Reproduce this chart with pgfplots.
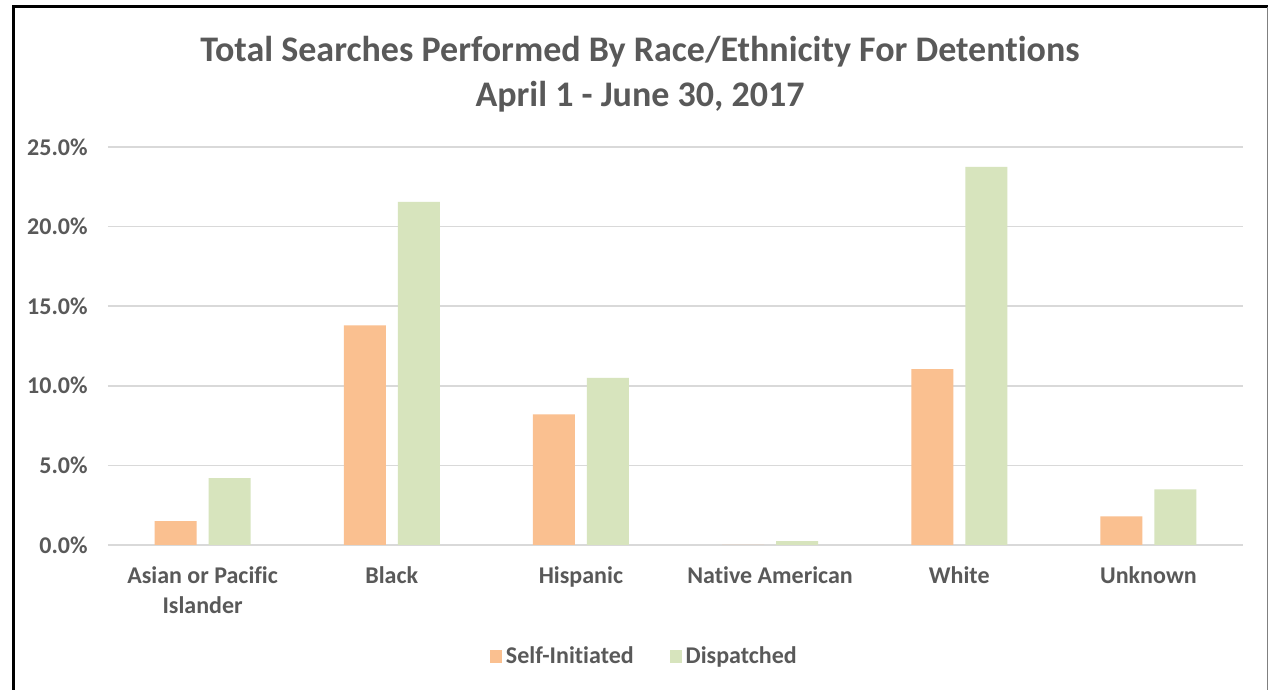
\documentclass[border=0pt]{standalone}
\usepackage{fontspec}
\setmainfont{Carlito}[Ligatures={NoCommon}]
\usepackage{pgfplots}
\pgfplotsset{compat=1.18}
\definecolor{txt}{HTML}{595959}
\definecolor{gridc}{HTML}{D9D9D9}
\definecolor{orng}{HTML}{FAC090}
\definecolor{grn}{HTML}{D7E4BD}
\begin{document}
\begin{tikzpicture}
\path[use as bounding box] (0,0) rectangle (634.5pt,345pt);
\fill[white] (0,0) rectangle (634.5pt,345pt);
\draw[line width=1.5pt] (6.5pt,0) -- (6.5pt,341.5pt) -- (634pt,341.5pt);
\draw[gray, line width=0.5pt] (633.8pt,341.5pt) -- (633.8pt,0);
\node[anchor=base, font=\bfseries\fontsize{18}{21}\selectfont, text=txt] at (320pt,314pt) {Total Searches Performed By Race/Ethnicity For Detentions};
\node[anchor=base, font=\bfseries\fontsize{18}{21}\selectfont, text=txt] at (320pt,291.5pt) {April 1 - June 30, 2017};
\begin{axis}[
  at={(54pt,72.5pt)}, anchor=south west,
  scale only axis, width=567.5pt, height=199pt,
  xmin=-0.5, xmax=5.5, ymin=0, ymax=25,
  ybar=6pt, bar width=21pt,
  axis line style={draw=none},
  ymajorgrids, grid style={gridc, line width=0.75pt},
  major tick length=0pt,
  /pgf/number format/assume math mode=true,
  xtick={0,1,2,3,4,5},
  xticklabels={{Asian or Pacific\\Islander},Black,Hispanic,Native American,White,Unknown},
  xticklabel style={align=center, font=\bfseries\fontsize{12}{15}\selectfont, text=txt, anchor=north, inner sep=0pt, yshift=-10.7pt},
  ytick={0,5,10,15,20,25},
  yticklabel={\pgfmathprintnumber[fixed,fixed zerofill,precision=1]{\tick}\%},
  yticklabel style={font=\bfseries\fontsize{12}{15}\selectfont, text=txt, anchor=east, inner sep=0pt, xshift=-10pt},
  legend style={draw=none, fill=none, at={(axis description cs:0.4734,0)}, anchor=center, yshift=-56pt,
    font=\bfseries\fontsize{12}{15}\selectfont, text=txt,
    /tikz/every even column/.append style={column sep=16pt}},
  legend columns=2,
  legend image code/.code={\fill[#1] (0pt,-3.2pt) rectangle (6pt,3.3pt);},
]
\addplot[draw=none, fill=orng] coordinates {(0,1.5) (1,13.8) (2,8.2) (3,0) (4,11.05) (5,1.8)};
\addplot[draw=none, fill=grn] coordinates {(0,4.2) (1,21.55) (2,10.5) (3,0.25) (4,23.75) (5,3.5)};
\legend{Self-Initiated, Dispatched}
\end{axis}
\end{tikzpicture}
\end{document}
